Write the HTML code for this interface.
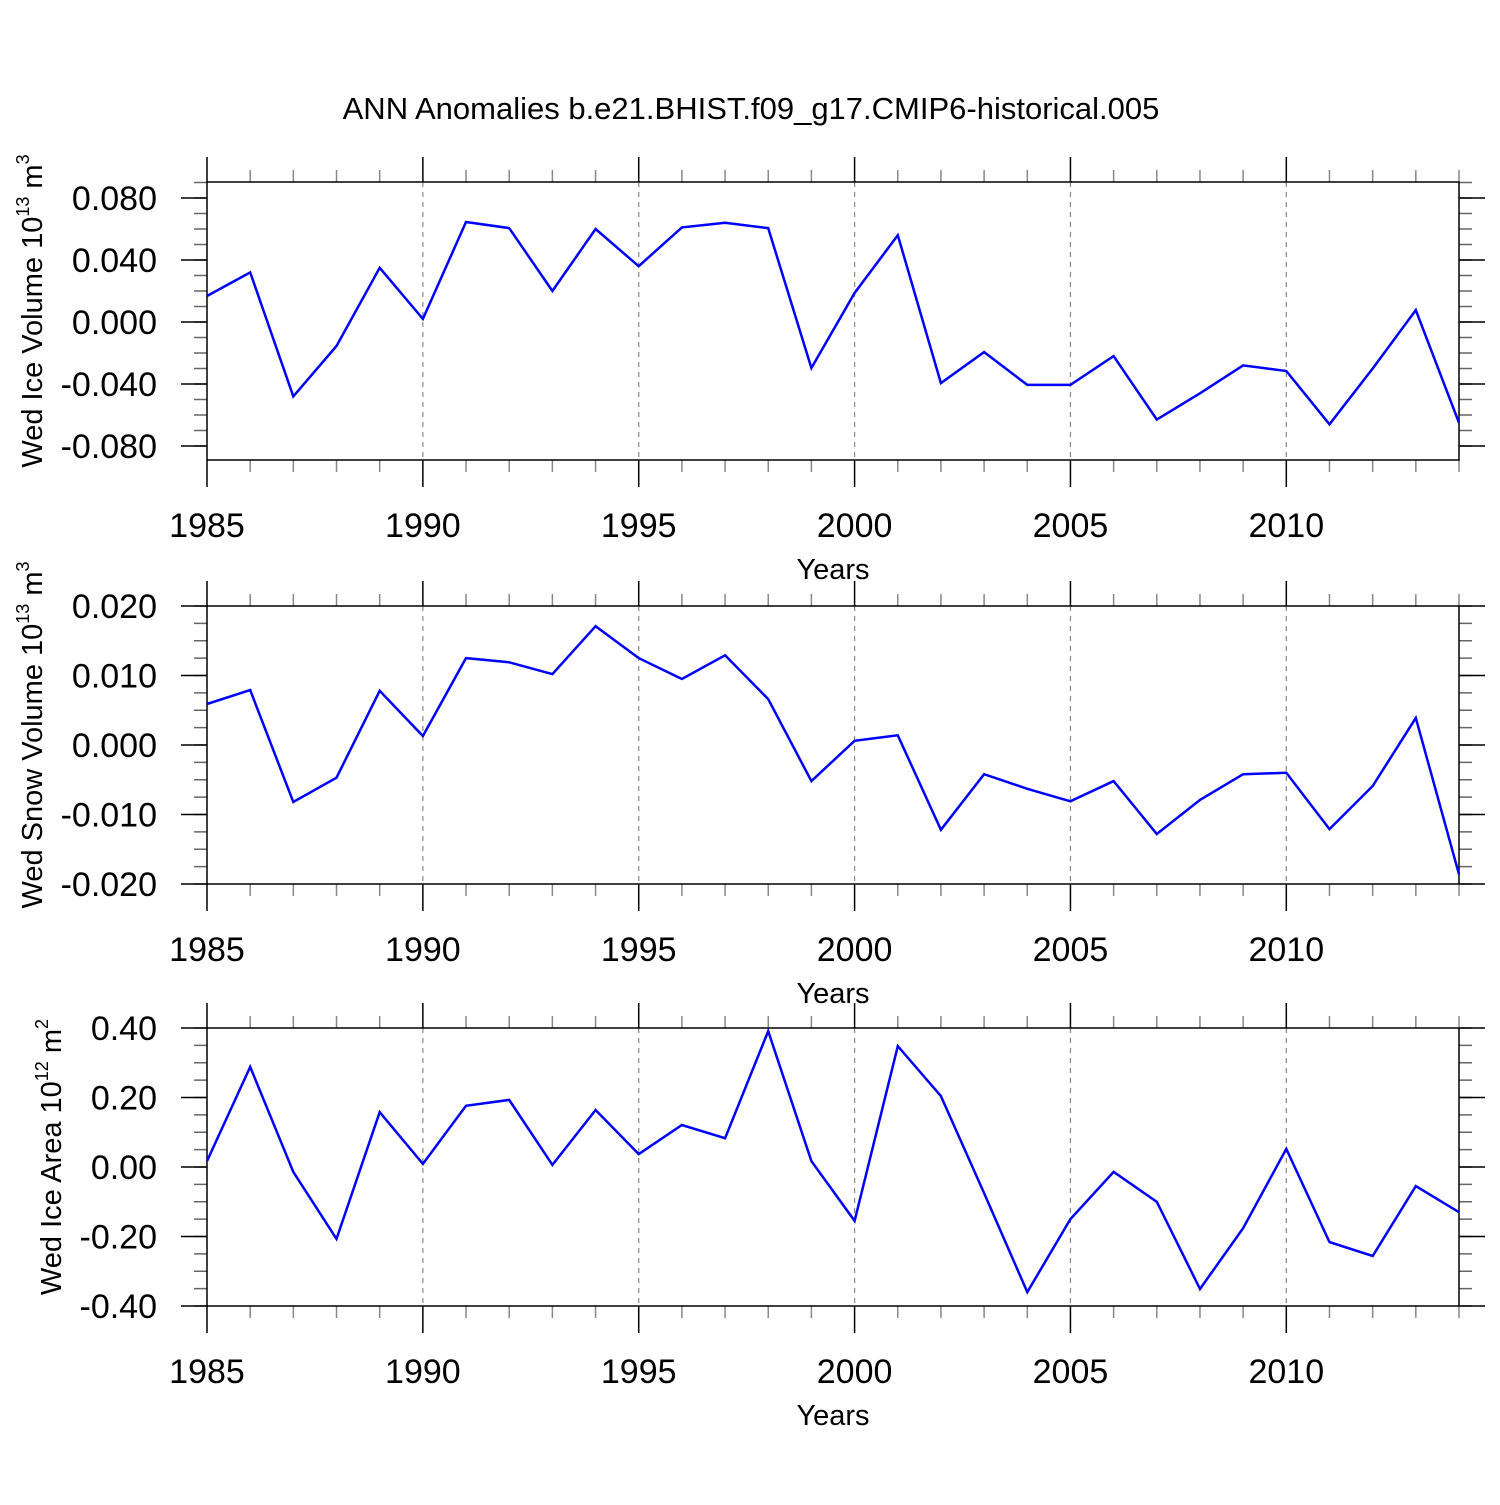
<!DOCTYPE html>
<html><head><meta charset="utf-8"><style>
html,body{margin:0;padding:0;background:#fff}
svg text{font-family:"Liberation Sans",Arial,sans-serif;fill:#000}
</style></head><body>
<svg id="chart" width="1500" height="1500" viewBox="0 0 1500 1500" xmlns="http://www.w3.org/2000/svg">
<rect width="1500" height="1500" fill="#fff"/>
<text x="751" y="119" font-size="31" text-anchor="middle">ANN Anomalies b.e21.BHIST.f09_g17.CMIP6-historical.005</text>
</svg>
<script>
const years = [1985,1986,1987,1988,1989,1990,1991,1992,1993,1994,1995,1996,1997,1998,1999,2000,2001,2002,2003,2004,2005,2006,2007,2008,2009,2010,2011,2012,2013,2014];
const iceVolume = [0.0168,0.032,-0.048,-0.0155,0.035,0.002,0.0645,0.0606,0.020,0.060,0.036,0.061,0.064,0.0606,-0.0297,0.0187,0.056,-0.0394,-0.0194,-0.0406,-0.0406,-0.022,-0.063,-0.046,-0.028,-0.0316,-0.066,-0.030,0.0077,-0.065];
const snowVolume = [0.0059,0.0079,-0.0082,-0.0047,0.0078,0.0013,0.0125,0.0119,0.0102,0.0171,0.0125,0.0095,0.0129,0.0066,-0.0052,0.0006,0.0014,-0.0122,-0.0042,-0.0063,-0.0081,-0.0052,-0.0128,-0.0079,-0.0042,-0.0040,-0.0121,-0.0059,0.0039,-0.0186];
const iceArea = [0.017,0.288,-0.014,-0.207,0.158,0.009,0.176,0.193,0.006,0.164,0.037,0.121,0.083,0.391,0.017,-0.155,0.348,0.204,-0.075,-0.36,-0.15,-0.014,-0.10,-0.351,-0.176,0.052,-0.216,-0.256,-0.055,-0.13];
const xTickLabels = [1985,1990,1995,2000,2005,2010];
const iceVolTicks = [0.08,0.04,0,-0.04,-0.08];
const snowVolTicks = [0.02,0.01,0,-0.01,-0.02];
const areaTicks = [0.4,0.2,0,-0.2,-0.4];

const NS='http://www.w3.org/2000/svg';
const svg=document.getElementById('chart');
function mk(tag,attrs,parent){const e=document.createElementNS(NS,tag);for(const k in attrs)e.setAttribute(k,attrs[k]);(parent||svg).appendChild(e);return e;}
const X0=207,X1=1459;
function xs(y){return X0+(y-1985)/(2014-1985)*(X1-X0);}

function panel(cfg){
  const g=mk('g',{});
  
  
  const top=cfg.top,bot=cfg.top+278;
  const ys=v=>cfg.zeroY-v*cfg.scale;
  const step=cfg.minor;
  for(let v=cfg.ticks[cfg.ticks.length-1]-step*8;v<=cfg.ticks[0]+step*8;v+=step){
    const y=ys(v); if(y<top-0.5||y>bot+0.5) continue;
    mk('line',{x1:194,x2:X0,y1:y,y2:y,stroke:'#666','stroke-width':1.5},g);
    mk('line',{x1:X1,x2:1472,y1:y,y2:y,stroke:'#666','stroke-width':1.5},g);
  }
  cfg.ticks.forEach(v=>{
    const y=ys(v);
    mk('line',{x1:181,x2:X0,y1:y,y2:y,stroke:'#000','stroke-width':1.5},g);
    mk('line',{x1:X1,x2:1485,y1:y,y2:y,stroke:'#000','stroke-width':1.5},g);
    const t=mk('text',{x:157,y:y+12,'font-size':34,'text-anchor':'end'},g);
    
    
    t.textContent=v.toFixed(cfg.dec);
  });
  years.forEach(yr=>{
    const x=xs(yr); const major=(yr%5===0);
    const len=major?25:12;
    mk('line',{x1:x,x2:x,y1:top-len,y2:top,stroke:major?'#000':'#888','stroke-width':1.5},g);
    mk('line',{x1:x,x2:x,y1:bot,y2:bot+len+(major?2:0),stroke:major?'#000':'#888','stroke-width':1.5},g);
    if(major&&yr!==1985){
      mk('line',{x1:x,x2:x,y1:top,y2:bot,stroke:'#888','stroke-width':1.2,'stroke-dasharray':'5,5'},g);
    }
  });
  xTickLabels.forEach(yr=>{
    const t=mk('text',{x:xs(yr),y:bot+77,'font-size':34,'text-anchor':'middle'},g);
    
    
    t.textContent=yr;
  });
  const xt=mk('text',{x:833,y:bot+119,'font-size':29,'text-anchor':'middle'},g);
  
  
  xt.textContent='Years';
  mk('rect',{x:X0,y:top,width:X1-X0,height:278,fill:'none',stroke:'#000','stroke-width':1.5},g);
  const cy=(top+bot)/2-10;
  const yt=mk('text',{x:0,y:0,'font-size':29,'text-anchor':'middle',transform:`translate(${cfg.titleX},${cy}) rotate(-90)`},g);
  
  
  yt.innerHTML=cfg.title;
  const pts=years.map((yr,i)=>xs(yr).toFixed(1)+','+ys(cfg.data[i]).toFixed(1)).join(' ');
  const pl=mk('polyline',{points:pts,fill:'none',stroke:'#0000ff','stroke-width':2.5,'stroke-linejoin':'miter'},g);
  
  
}
panel({name:'ice-volume-panel',top:182,zeroY:322,scale:1550,ticks:iceVolTicks,minor:0.01,dec:3,data:iceVolume,titleX:42,
  title:'Wed Ice Volume 10<tspan font-size="18" dy="-13">13</tspan><tspan dy="13"> m</tspan><tspan font-size="18" dy="-13">3</tspan>'});
panel({name:'snow-volume-panel',top:606,zeroY:745,scale:6950,ticks:snowVolTicks,minor:0.0025,dec:3,data:snowVolume,titleX:42,
  title:'Wed Snow Volume 10<tspan font-size="18" dy="-13">13</tspan><tspan dy="13"> m</tspan><tspan font-size="18" dy="-13">3</tspan>'});
panel({name:'ice-area-panel',top:1028,zeroY:1167,scale:347.5,ticks:areaTicks,minor:0.05,dec:2,data:iceArea,titleX:61,
  title:'Wed Ice Area 10<tspan font-size="18" dy="-13">12</tspan><tspan dy="13"> m</tspan><tspan font-size="18" dy="-13">2</tspan>'});
</script>
</body></html>
